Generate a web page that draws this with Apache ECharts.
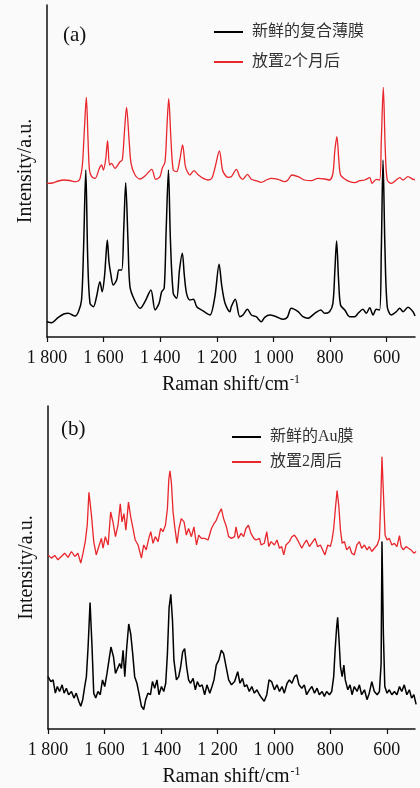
<!DOCTYPE html>
<html>
<head>
<meta charset="utf-8">
<script src="https://cdn.jsdelivr.net/npm/echarts@6/dist/echarts.min.js"></script>
<style>
html,body{margin:0;padding:0;background:#fafafa;}
#chart{width:420px;height:788px;}
</style>
</head>
<body>
<div id="chart"></div>
<script>
// ---------- tick labels ----------
var xTicks = [1800, 1600, 1400, 1200, 1000, 800, 600];
var xTickLabels = ['1 800', '1 600', '1 400', '1 200', '1 000', '800', '600'];

// ---------- panel (a): fresh composite film (black) ----------
var aFreshX = [1800,1784,1760,1741,1725,1701,1689,1678,1671,1663,1656,1648,1636,1625,1613,1605,1597,1592,1587,1581,1575,1566,1554,1546,1536,1529,1522,1514,1507,1491,1471,1454,1433,1418,1404,1395,1386,1379,1371,1364,1354,1342,1332,1322,1315,1307,1295,1283,1271,1254,1236,1224,1207,1192,1183,1171,1154,1149,1135,1119,1108,1092,1078,1061,1043,1031,1013,990,966,951,937,913,896,878,854,833,819,802,790,783,777,770,763,748,731,713,701,684,672,660,648,637,625,619,613,606,598,584,566,554,542,525,507,500];
var aFreshY = [15.3,14.3,19.7,23,23.7,21,25.3,37,87,167,77,33.7,30.3,40.3,55.3,45.3,60.3,80,97,75,63.7,52,57,67,67,107,154.3,97,50.3,37,28.7,35.3,47,27,33.7,45.3,48.7,107,167,97,43.7,38.7,67,83.7,62,43.7,37,37.7,30.3,27,23.7,22,40.3,72.7,52,33.7,25.3,30.3,37.7,20.3,22,27.7,22,20.3,15.3,19.7,22,20.3,17.7,19.7,28.7,25.3,20.3,18.7,23.7,27,23.7,25.3,33.7,67,96,57,32,27,20.3,20.3,23.7,27.7,23.7,29.3,22,27.7,27,87,177,87,30.3,22,25.3,28.7,25.3,29.7,25.3,21];

// ---------- panel (a): after 2 months (red) ----------
var aAgedX = [1800,1780,1760,1740,1720,1700,1690,1683,1675,1668,1661,1655,1650,1642,1630,1615,1607,1601,1593,1586,1579,1572,1560,1542,1534,1526,1519,1510,1503,1489,1471,1454,1430,1416,1401,1393,1383,1376,1370,1362,1354,1342,1331,1321,1312,1307,1295,1281,1265,1248,1230,1218,1207,1191,1180,1171,1161,1149,1131,1119,1108,1092,1078,1061,1043,1025,1008,984,960,949,935,913,890,866,843,819,802,790,783,776,769,763,748,731,713,695,678,660,652,637,625,619,612,605,598,584,566,554,542,525,507,500];
var aAgedY = [153.7,154,156,157,156.5,155.3,156,158.7,172,207,239.7,197,167,160.3,158.7,168.7,172,167,177,196.3,172,173.7,168.7,175.3,177,207,229.7,197,173.7,162,158,161,167.7,157.7,160.3,168.7,175.3,212,238.3,197,167,165.3,177,192,172,167,162,166.3,162,158.7,157,158.7,168.7,186,167,162,159.7,160.3,167.7,160.3,157.7,162.7,157.7,156.3,154.7,157,158.7,157.7,155.3,157,162,160.3,157,156.3,158.7,158,157,163.7,187,200.3,177,162,158,155.3,154.3,156.3,157,159.3,153.7,157.7,157,197,249.7,187,157,153.7,157,159.3,157,160.3,157.7,157.5];

// ---------- panel (b): fresh Au film (black) ----------
var bFreshX = [1800,1790,1782,1774,1767,1759,1750,1743,1735,1727,1717,1708,1700,1691,1684,1677,1670,1664,1658,1651,1644,1638,1631,1623,1615,1607,1599,1591,1584,1577,1568,1561,1554,1546,1540,1534,1528,1521,1514,1507,1500,1493,1485,1478,1469,1461,1454,1446,1437,1430,1422,1414,1407,1398,1390,1383,1377,1371,1365,1359,1354,1345,1337,1330,1323,1316,1309,1302,1295,1286,1278,1271,1263,1254,1245,1237,1227,1219,1212,1204,1195,1186,1178,1168,1160,1150,1139,1128,1120,1111,1104,1096,1087,1078,1069,1060,1051,1043,1034,1025,1017,1008,998,989,980,971,963,953,945,936,927,919,911,901,892,884,874,865,856,847,839,829,821,813,803,795,788,783,778,774,769,764,758,752,747,738,730,723,715,705,697,689,679,670,662,653,644,634,626,620,617,612,607,599,591,582,573,564,555,547,538,529,520,512,504,496];
var bFreshY = [53,48,49.7,36.3,43,38,44.7,36.3,41.3,34.7,38,31.3,36.3,28,23,29.7,43,53,83,128,83,36.3,31.3,38,34.7,49.7,43,56.3,69.7,83,73,56.3,54.7,66.3,61.3,79.7,53,83,106.3,96.3,76.3,53,46.3,36.3,23,19.7,29.7,36.3,34.7,48,41.3,49.7,34.7,43,38,46.3,76.3,123,136.3,109.7,69.7,49.7,53,63,78,81.3,63,49.7,46.3,51.3,39.7,48,43,44.7,34.7,44.7,36.3,43,49.7,64.7,69.7,79.7,76.3,61.3,49.7,44.7,48,58,46.3,51.3,43,44.7,38,43,36.3,39.7,34.7,31.3,28,34.7,49.7,48,39.7,44.7,38,43,36.3,46.3,49.7,46.3,53,54.7,44.7,41.3,44.7,34.7,39.7,43,36.3,41.3,34.7,38,33,38,34.7,38,53,79.7,101.3,113,89.7,63,53,64.7,49.7,39.7,44.7,34.7,43,38,44.7,34.7,39.7,29.7,36.3,48,38,34.7,38,66.3,189.7,96.3,43,36.3,39.7,34.7,38,34.7,43,38,44.7,34.7,39.7,31.3,34.7,25];

// ---------- panel (b): after 2 weeks (red) ----------
var bAgedX = [1800,1788,1776,1765,1753,1741,1729,1717,1705,1694,1684,1676,1668,1661,1655,1646,1638,1629,1620,1611,1605,1597,1587,1578,1570,1561,1552,1544,1538,1531,1524,1515,1507,1499,1491,1481,1469,1461,1452,1443,1436,1428,1420,1410,1401,1393,1384,1377,1372,1368,1363,1357,1351,1343,1336,1328,1318,1310,1302,1292,1283,1274,1266,1257,1245,1233,1221,1212,1204,1195,1186,1178,1168,1160,1150,1139,1134,1126,1116,1107,1099,1090,1081,1071,1063,1051,1045,1034,1025,1018,1010,998,989,980,972,965,957,945,936,927,919,910,901,892,884,874,862,854,845,835,827,819,809,800,794,788,782,776,770,764,758,750,742,732,724,715,706,697,689,679,670,662,653,644,634,626,621,617,612,606,599,591,582,573,564,555,549,541,532,523,514,504,496];
var bAgedY = [176.3,173,175.7,171.3,174.7,178,173.7,179.7,174.7,178,168,178,189.7,206.3,239.7,216.3,189.7,176.3,184.7,193,183,194.7,186.3,219.7,209.7,194.7,206.3,228,209.7,218,201.3,229.7,214.7,203,191.3,186.3,173,186.3,181.3,193,199.7,188,194.7,189.7,203,199.7,206.3,223,253,261.3,249.7,219.7,204.7,188,203,213,209.7,196.3,203,194.7,204.7,186.3,196.3,193,193,191.3,203,208,211.3,218,223,213,204.7,194.7,193,194.7,204.7,193,198,194.7,203,206.3,198,193,191.3,193,186.3,188,199.7,184.7,189.7,186.3,191.3,183,184.7,176.3,186.3,189.7,194.7,196.3,193,188,183,188,191.3,184.7,189.7,193,184.7,186.3,181.3,176.3,186.3,184.7,191.3,203,223,241.3,226.3,201.3,188,189.7,181.3,184.7,178,176.3,186.3,189.7,183,186.3,181.3,184.7,179.7,183,186.3,193,233,275.7,239.7,196.3,191.3,193,186.3,188,184.7,195.7,184.7,181.3,184.7,183,181.3,178,179.7];

// ---------- names ----------
var seriesNamesA = ['新鲜的复合薄膜', '放置2个月后'];
var seriesNamesB = ['新鲜的Au膜', '放置2周后'];

function zip(xs, ys) { return xs.map(function (x, i) { return [x, ys[i]]; }); }

var SERIF = '"Liberation Serif", "Times New Roman", serif';
var CJK = '"Liberation Serif", "Noto Sans CJK SC", serif';
var RED = '#e8262c';
var BLACK = '#000000';

function xAxisFor(gridIndex) {
  return {
    type: 'value', gridIndex: gridIndex, inverse: true, min: 500, max: 1800,
    name: 'Raman shift/cm{sup|-1}', nameLocation: 'middle', nameGap: 37,
    nameTextStyle: {
      fontFamily: SERIF, fontSize: 20, color: '#111',
      rich: { sup: { fontFamily: SERIF, fontSize: 12, color: '#111', verticalAlign: 'top', padding: [0, 0, 10, 1] } }
    },
    axisLine: { show: true, onZero: false, lineStyle: { color: '#111', width: 1.5 } },
    axisTick: { show: true, customValues: xTicks, length: 5, inside: false, lineStyle: { color: '#111', width: 1.2 } },
    axisLabel: {
      show: true, customValues: xTicks, margin: 12, fontFamily: SERIF, fontSize: 18, color: '#111',
      formatter: function (v) { var i = xTicks.indexOf(v); return i >= 0 ? xTickLabels[i] : ''; }
    },
    splitLine: { show: false }
  };
}
function yAxisFor(gridIndex, maxV) {
  return {
    type: 'value', gridIndex: gridIndex, min: 0, max: maxV,
    name: 'Intensity/a.u.', nameLocation: 'middle', nameGap: 11,
    nameTextStyle: { fontFamily: SERIF, fontSize: 20, color: '#111' },
    axisLine: { show: true, lineStyle: { color: '#111', width: 1.5 } },
    axisTick: { show: false }, axisLabel: { show: false }, splitLine: { show: false }
  };
}

var chart = echarts.init(document.getElementById('chart'), null, { renderer: 'canvas' });
chart.setOption({
  backgroundColor: '#fafafa',
  animation: false,
  title: [
    { text: '(a)', left: 63, top: 25, padding: 0, textStyle: { fontFamily: SERIF, fontSize: 21, fontWeight: 'normal', color: '#111' } },
    { text: '(b)', left: 61, top: 419, padding: 0, textStyle: { fontFamily: SERIF, fontSize: 21, fontWeight: 'normal', color: '#111' } }
  ],
  legend: [
    { data: seriesNamesA, orient: 'vertical', left: 214, top: 24, padding: 0, itemGap: 14, itemWidth: 29, itemHeight: 2, icon: 'rect',
      textStyle: { fontFamily: CJK, fontSize: 16, color: '#333', padding: [0, 0, 0, 4] } },
    { data: seriesNamesB, orient: 'vertical', left: 232, top: 429, padding: 0, itemGap: 9, itemWidth: 29, itemHeight: 2, icon: 'rect',
      textStyle: { fontFamily: CJK, fontSize: 16, color: '#333', padding: [0, 0, 0, 4] } }
  ],
  grid: [
    { left: 47, right: 5, top: 5, height: 332 },
    { left: 48, right: 5, top: 406, height: 327 }
  ],
  xAxis: [xAxisFor(0), xAxisFor(1)],
  yAxis: [yAxisFor(0, 332), yAxisFor(1, 327)],
  series: [
    { name: seriesNamesA[0], type: 'line', xAxisIndex: 0, yAxisIndex: 0, data: zip(aFreshX, aFreshY), showSymbol: false, symbol: 'none',
      smooth: 0.3, lineStyle: { color: BLACK, width: 1.5 }, itemStyle: { color: BLACK } },
    { name: seriesNamesA[1], type: 'line', xAxisIndex: 0, yAxisIndex: 0, data: zip(aAgedX, aAgedY), showSymbol: false, symbol: 'none',
      smooth: 0.3, lineStyle: { color: RED, width: 1.3 }, itemStyle: { color: RED } },
    { name: seriesNamesB[0], type: 'line', xAxisIndex: 1, yAxisIndex: 1, data: zip(bFreshX, bFreshY), showSymbol: false, symbol: 'none',
      lineStyle: { color: BLACK, width: 1.5 }, itemStyle: { color: BLACK } },
    { name: seriesNamesB[1], type: 'line', xAxisIndex: 1, yAxisIndex: 1, data: zip(bAgedX, bAgedY), showSymbol: false, symbol: 'none',
      lineStyle: { color: RED, width: 1.3 }, itemStyle: { color: RED } }
  ]
});
</script>
</body>
</html>
